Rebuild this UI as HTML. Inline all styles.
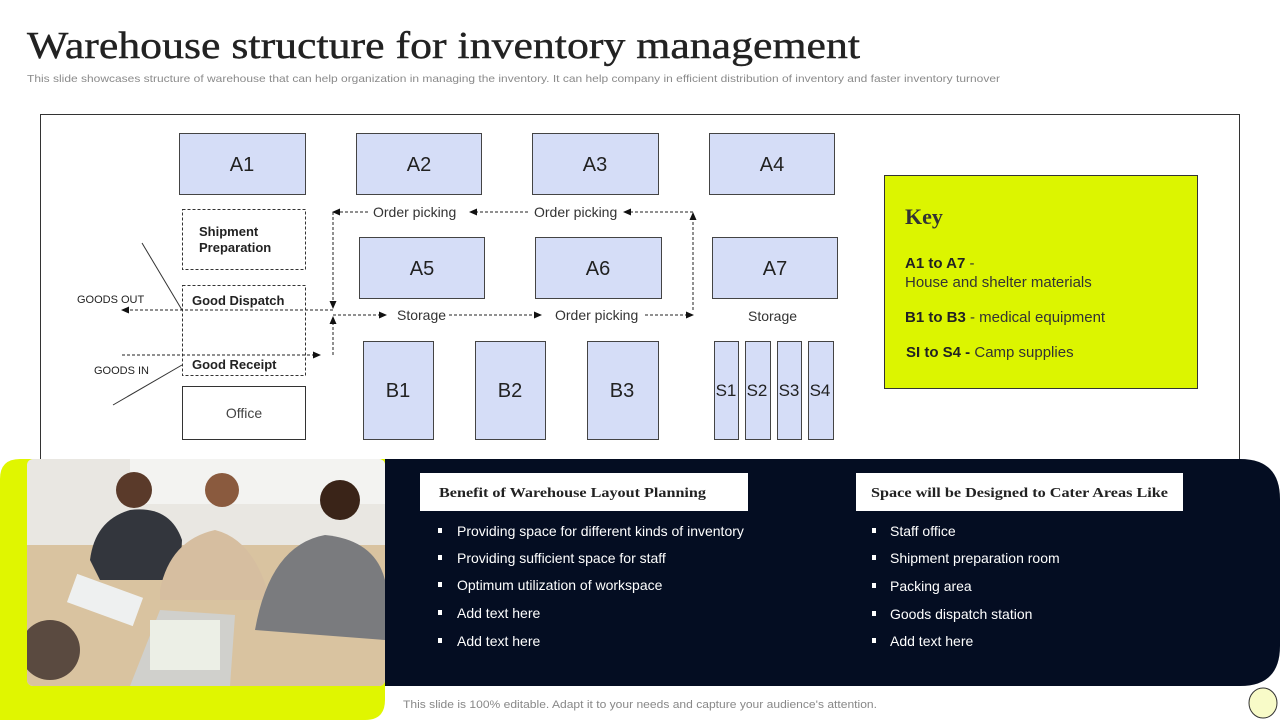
<!DOCTYPE html>
<html><head><meta charset="utf-8"><style>
html,body{margin:0;padding:0;background:#fff}
svg{display:block}
</style></head><body>
<svg width="1280" height="720" viewBox="0 0 1280 720" xmlns="http://www.w3.org/2000/svg" font-family="Liberation Sans, sans-serif">
<defs>
<marker id="ah" markerWidth="8" markerHeight="8" refX="7" refY="4" orient="auto" markerUnits="userSpaceOnUse"><path d="M0,0.5 L8,4 L0,7.5 z" fill="#111"/></marker>
</defs>
<text x="27" y="58" font-family="Liberation Serif, serif" font-size="38" fill="#222" stroke="#222" stroke-width="0.4" textLength="833" lengthAdjust="spacingAndGlyphs">Warehouse structure for inventory management</text>
<text x="27" y="82" font-size="10.5" fill="#8a8a8a" textLength="973" lengthAdjust="spacingAndGlyphs">This slide showcases structure of warehouse that can help organization in managing the inventory.  It can help company in efficient distribution of inventory and faster inventory turnover</text>

<rect x="40.5" y="114.5" width="1199" height="360" fill="#fff" stroke="#333" stroke-width="1"/>

<g fill="#d5ddf7" stroke="#444" stroke-width="1">
<rect x="179.5" y="133.5" width="126" height="61"/>
<rect x="356.5" y="133.5" width="125" height="61"/>
<rect x="532.5" y="133.5" width="126" height="61"/>
<rect x="709.5" y="133.5" width="125" height="61"/>
<rect x="359.5" y="237.5" width="125" height="61"/>
<rect x="535.5" y="237.5" width="126" height="61"/>
<rect x="712.5" y="237.5" width="125" height="61"/>
<rect x="363.5" y="341.5" width="70" height="98"/>
<rect x="475.5" y="341.5" width="70" height="98"/>
<rect x="587.5" y="341.5" width="71" height="98"/>
<rect x="714.5" y="341.5" width="24" height="98"/>
<rect x="745.5" y="341.5" width="25" height="98"/>
<rect x="777.5" y="341.5" width="24" height="98"/>
<rect x="808.5" y="341.5" width="25" height="98"/>
</g>
<g font-size="20" fill="#222" text-anchor="middle">
<text x="242" y="171">A1</text><text x="419" y="171">A2</text><text x="595" y="171">A3</text><text x="772" y="171">A4</text>
<text x="422" y="275">A5</text><text x="598" y="275">A6</text><text x="775" y="275">A7</text>
<text x="398" y="397">B1</text><text x="510" y="397">B2</text><text x="622" y="397">B3</text>
</g>
<g font-size="17" fill="#222" text-anchor="middle">
<text x="726" y="396">S1</text><text x="757" y="396">S2</text><text x="789" y="396">S3</text><text x="820" y="396">S4</text>
</g>

<g fill="none" stroke="#333" stroke-width="1" stroke-dasharray="3,2">
<rect x="182.5" y="209.5" width="123" height="60"/>
<rect x="182.5" y="285.5" width="123" height="90"/>
</g>
<rect x="182.5" y="386.5" width="123" height="53" fill="#fff" stroke="#333"/>
<text x="244" y="418" font-size="14" fill="#444" text-anchor="middle">Office</text>
<g font-size="13" font-weight="bold" fill="#222">
<text x="199" y="236">Shipment</text><text x="199" y="252">Preparation</text>
<text x="192" y="305">Good Dispatch</text>
<text x="192" y="369">Good Receipt</text>
</g>
<g font-size="11" fill="#222">
<text x="77" y="303">GOODS  OUT</text>
<text x="94" y="374">GOODS  IN</text>
</g>
<g stroke="#333" stroke-width="1">
<line x1="142" y1="243" x2="182" y2="310"/>
<line x1="113" y1="405" x2="182" y2="365"/>
</g>

<g fill="none" stroke="#222" stroke-width="1" stroke-dasharray="3,2">
<path d="M693,310 L693,213" marker-end="url(#ah)"/>
<path d="M693,212 L624,212" marker-end="url(#ah)"/>
<path d="M528,212 L470,212" marker-end="url(#ah)"/>
<path d="M368,212 L333,212" marker-end="url(#ah)"/>
<path d="M333,212 L333,308" marker-end="url(#ah)"/>
<path d="M333,310 L122,310" marker-end="url(#ah)"/>
<path d="M333,355 L333,317" marker-end="url(#ah)"/>
<path d="M122,355 L320,355" marker-end="url(#ah)"/>
<path d="M333,315 L386,315" marker-end="url(#ah)"/>
<path d="M449,315 L541,315" marker-end="url(#ah)"/>
<path d="M645,315 L693,315" marker-end="url(#ah)"/>
</g>
<g font-size="14" fill="#333">
<text x="373" y="217">Order picking</text>
<text x="534" y="217">Order picking</text>
<text x="397" y="320">Storage</text>
<text x="555" y="320">Order picking</text>
<text x="748" y="321">Storage</text>
</g>

<rect x="884.5" y="175.5" width="313" height="213" fill="#dcf500" stroke="#333"/>
<text x="905" y="224" font-family="Liberation Serif, serif" font-size="22" font-weight="bold" fill="#333">Key</text>
<g font-size="15" fill="#333">
<text x="905" y="268"><tspan font-weight="bold" fill="#222">A1  to A7</tspan> -</text>
<text x="905" y="287">House  and shelter materials</text>
<text x="905" y="322"><tspan font-weight="bold" fill="#222">B1 to B3</tspan> -  medical equipment</text>
<text x="906" y="357"><tspan font-weight="bold" fill="#222">SI to S4  -</tspan>  Camp supplies</text>
</g>

<path d="M0,479 Q0,459 20,459 L385,459 L385,700 Q385,720 365,720 L0,720 Z" fill="#e0f600"/>
<path d="M385,459 L1240,459 Q1280,459 1280,499 L1280,646 Q1280,686 1240,686 L385,686 Z" fill="#040d22"/>
<g>
<clipPath id="pc"><rect x="27" y="459" width="358" height="227" rx="6"/></clipPath>
<g clip-path="url(#pc)">
<rect x="27" y="459" width="358" height="227" fill="#e9e7e2"/>
<rect x="27" y="545" width="358" height="141" fill="#d9c3a0"/>
<rect x="130" y="459" width="255" height="45" fill="#f3f3f1"/>
<path d="M90,560 Q95,520 130,510 Q170,505 182,540 L180,580 L100,580 Z" fill="#33363d"/>
<circle cx="134" cy="490" r="18" fill="#5a3a2a"/>
<path d="M160,590 Q170,540 215,530 Q255,540 270,600 L160,600 Z" fill="#d6bea0"/>
<circle cx="222" cy="490" r="17" fill="#8a5a3e"/>
<path d="M255,630 Q270,545 325,535 Q375,540 385,580 L385,640 Z" fill="#7a7b7e"/>
<circle cx="340" cy="500" r="20" fill="#3a2418"/>
<path d="M130,686 L160,610 L235,615 L230,686 Z" fill="#d0d0cc"/>
<rect x="150" y="620" width="70" height="50" fill="#ecefe6"/>
<circle cx="50" cy="650" r="30" fill="#5a4a40"/>
<rect x="70" y="585" width="70" height="30" fill="#eef0f0" transform="rotate(20 105 600)"/>
</g>
</g>

<rect x="420" y="473" width="328" height="38" fill="#fff"/>
<rect x="856" y="473" width="327" height="38" fill="#fff"/>
<text x="439" y="497" font-family="Liberation Serif, serif" font-size="14" font-weight="bold" fill="#222" textLength="267" lengthAdjust="spacingAndGlyphs">Benefit of Warehouse Layout Planning</text>
<text x="871" y="497" font-family="Liberation Serif, serif" font-size="14" font-weight="bold" fill="#222" textLength="297" lengthAdjust="spacingAndGlyphs">Space will be Designed to Cater Areas Like</text>
<g font-size="14" fill="#fff">
<rect x="438" y="528" width="4" height="5"/><text x="457" y="536">Providing space for different kinds of inventory</text>
<rect x="438" y="555" width="4" height="5"/><text x="457" y="563">Providing sufficient space for staff</text>
<rect x="438" y="582" width="4" height="5"/><text x="457" y="590">Optimum utilization of workspace</text>
<rect x="438" y="610" width="4" height="5"/><text x="457" y="618">Add text here</text>
<rect x="438" y="638" width="4" height="5"/><text x="457" y="646">Add text here</text>
<rect x="872" y="528" width="4" height="5"/><text x="890" y="536">Staff office</text>
<rect x="872" y="555" width="4" height="5"/><text x="890" y="563">Shipment preparation room</text>
<rect x="872" y="583" width="4" height="5"/><text x="890" y="591">Packing area</text>
<rect x="872" y="611" width="4" height="5"/><text x="890" y="619">Goods dispatch station</text>
<rect x="872" y="638" width="4" height="5"/><text x="890" y="646">Add text here</text>
</g>
<text x="403" y="708" font-size="11" fill="#888" textLength="474" lengthAdjust="spacingAndGlyphs">This slide is 100% editable. Adapt it to your needs and capture your audience's attention.</text>
<ellipse cx="1263" cy="703" rx="14" ry="15" fill="#f8fbc8" stroke="#333"/>
</svg>
</body></html>
